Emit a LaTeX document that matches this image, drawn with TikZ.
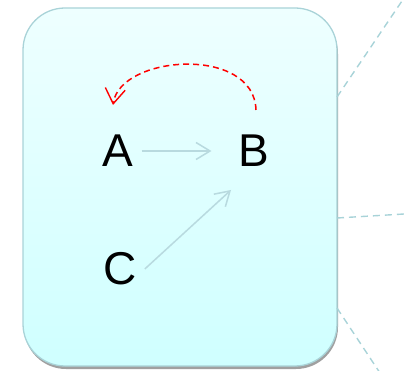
\documentclass[tikz,border=0pt]{standalone}
\usepackage{fontspec}
\setmainfont{Liberation Sans}
\usetikzlibrary{arrows.meta}
\definecolor{boxtop}{HTML}{EEFFFF}
\definecolor{boxbot}{HTML}{CFFFFF}
\definecolor{boxline}{HTML}{A9D3D8}
\definecolor{arrcol}{HTML}{B8DADF}
\definecolor{dashcol}{HTML}{A8D3D8}
\definecolor{shadowcol}{HTML}{A0A0A0}
\tikzset{
  letter/.style={inner sep=8pt, font=\fontsize{46}{50}\selectfont, text=black},
  lightarrow/.style={draw=arrcol, line width=1.5pt, -{Straight Barb[length=14pt,width=17pt,line width=1.5pt]}},
  redarrow/.style={draw=red, line width=1.5pt, dash pattern=on 6pt off 4pt, -{Straight Barb[length=15pt,width=20pt,line width=1.4pt]}},
  outdash/.style={draw=dashcol, line width=1.4pt, dash pattern=on 7pt off 5pt},
}
\begin{document}
\begin{tikzpicture}[x=1pt,y=-1pt]
\useasboundingbox (0,0) rectangle (404,371);
% shadow
\fill[shadowcol, rounded corners=42pt] (24,12) rectangle (338,369);
% box
\shade[top color=boxtop, bottom color=boxbot, rounded corners=42pt] (23,8) rectangle (337,366);
\draw[boxline, line width=1.3pt, rounded corners=42pt] (23,8) rectangle (337,366);
\coordinate (e1) at (337,97);
\coordinate (e2) at (337,218);
\coordinate (e3) at (337,308);
\coordinate (f1) at (404,-2);
\coordinate (f2) at (404,214);
\coordinate (f3) at (380,373);
\draw[outdash] (e1) -- (f1);
\draw[outdash] (e2) -- (f2);
\draw[outdash] (e3) -- (f3);
% nodes
\node[letter] (A) at (118,151) {A};
\node[letter] (B) at (254,151) {B};
\node[letter] (C) at (120,269) {C};
\draw[lightarrow, shorten >=19pt] (A.east) -- (B.west);
\draw[lightarrow] (C.east) -- ([shift={(-23,39)}]B.center);
\coordinate (rs) at ([shift={(2,-41)}]B.center);
\coordinate (re) at ([shift={(-5,-46)}]A.center);
\draw[redarrow] (rs) .. controls (254,45) and (120,55) .. (re);
\end{tikzpicture}
\end{document}
